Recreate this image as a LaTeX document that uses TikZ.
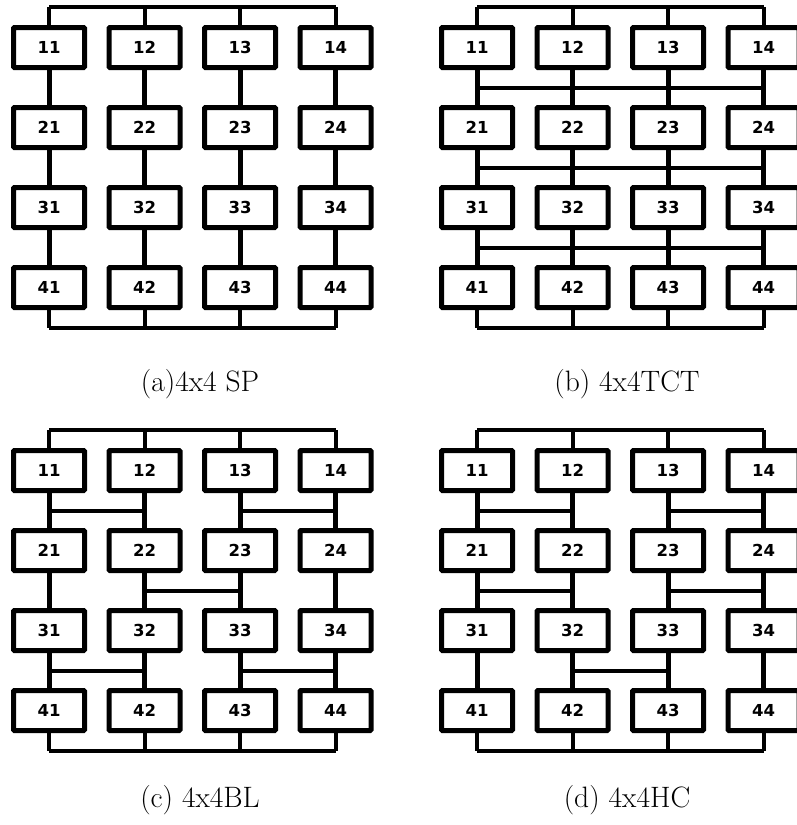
\documentclass[tikz,border=0pt]{standalone}
\usepackage{fontspec}
\newfontfamily\numfont{DejaVu Sans}
\usetikzlibrary{calc}

\tikzset{
  pe/.style={draw, line width=5pt, minimum width=71pt, minimum height=40pt,
    inner sep=0pt, rounded corners=1pt,
    font=\numfont\bfseries\fontsize{16.5}{16.5}\selectfont},
  link/.style={line width=5pt},
  cross/.style={line width=4pt},
  bus/.style={line width=4pt},
  caption/.style={font=\fontsize{29.5}{29.5}\selectfont\addfontfeatures{FakeBold=0.3}}
}

\begin{document}
\begin{tikzpicture}[x=1pt, y=-1pt]
    \useasboundingbox (0,0) rectangle (797,825);

    % four 4x4 arrays: PEs, column links, top and bottom bus
    \foreach \p/\ox/\oy in {a/0/0, b/428/0, c/0/423, d/428/423} {
        \foreach \r in {1,...,4}
            \foreach \c in {1,...,4}
                \node[pe] (\p\r\c) at ({\ox+49+95.5*(\c-1)}, {\oy+47.5+80*(\r-1)}) {\r\c};
        \coordinate (top\p) at (0, \oy+7);
        \coordinate (bot\p) at (0, \oy+328);
        \foreach \c in {1,...,4} {
            \draw[link] (\p1\c.south) -- (\p2\c.north);
            \draw[link] (\p2\c.south) -- (\p3\c.north);
            \draw[link] (\p3\c.south) -- (\p4\c.north);
            \draw[bus] (\p1\c.north) -- (\p1\c.north |- top\p);
            \draw[bus] (\p4\c.south) -- (\p4\c.south |- bot\p);
        }
        \draw[bus] (\p11.north |- top\p) -- (\p14.north |- top\p);
        \draw[bus] (\p41.south |- bot\p) -- (\p44.south |- bot\p);
    }

    % cross links (b) TCT
    \foreach \r/\s in {1/2, 2/3, 3/4}
        \draw[cross] ($(b\r1.south)!.5!(b\s1.north)$) -- ($(b\r4.south)!.5!(b\s4.north)$);

    % cross links (c) BL
    \foreach \r/\s/\i/\j in {1/2/1/2, 1/2/3/4, 2/3/2/3, 3/4/1/2, 3/4/3/4}
        \draw[cross] ($(c\r\i.south)!.5!(c\s\i.north)$) -- ($(c\r\j.south)!.5!(c\s\j.north)$);

    % cross links (d) HC
    \foreach \r/\s/\i/\j in {1/2/1/2, 1/2/3/4, 2/3/1/2, 2/3/3/4, 3/4/2/3}
        \draw[cross] ($(d\r\i.south)!.5!(d\s\i.north)$) -- ($(d\r\j.south)!.5!(d\s\j.north)$);

    % captions
    \node[caption] (capa) at (200,384) {(a)4x4 SP};
    \node[caption] (capb) at (627,384) {(b) 4x4TCT};
    \node[caption] (capc) at (200,800) {(c) 4x4BL};
    \node[caption] (capd) at (627,800) {(d) 4x4HC};
\end{tikzpicture}
\end{document}
